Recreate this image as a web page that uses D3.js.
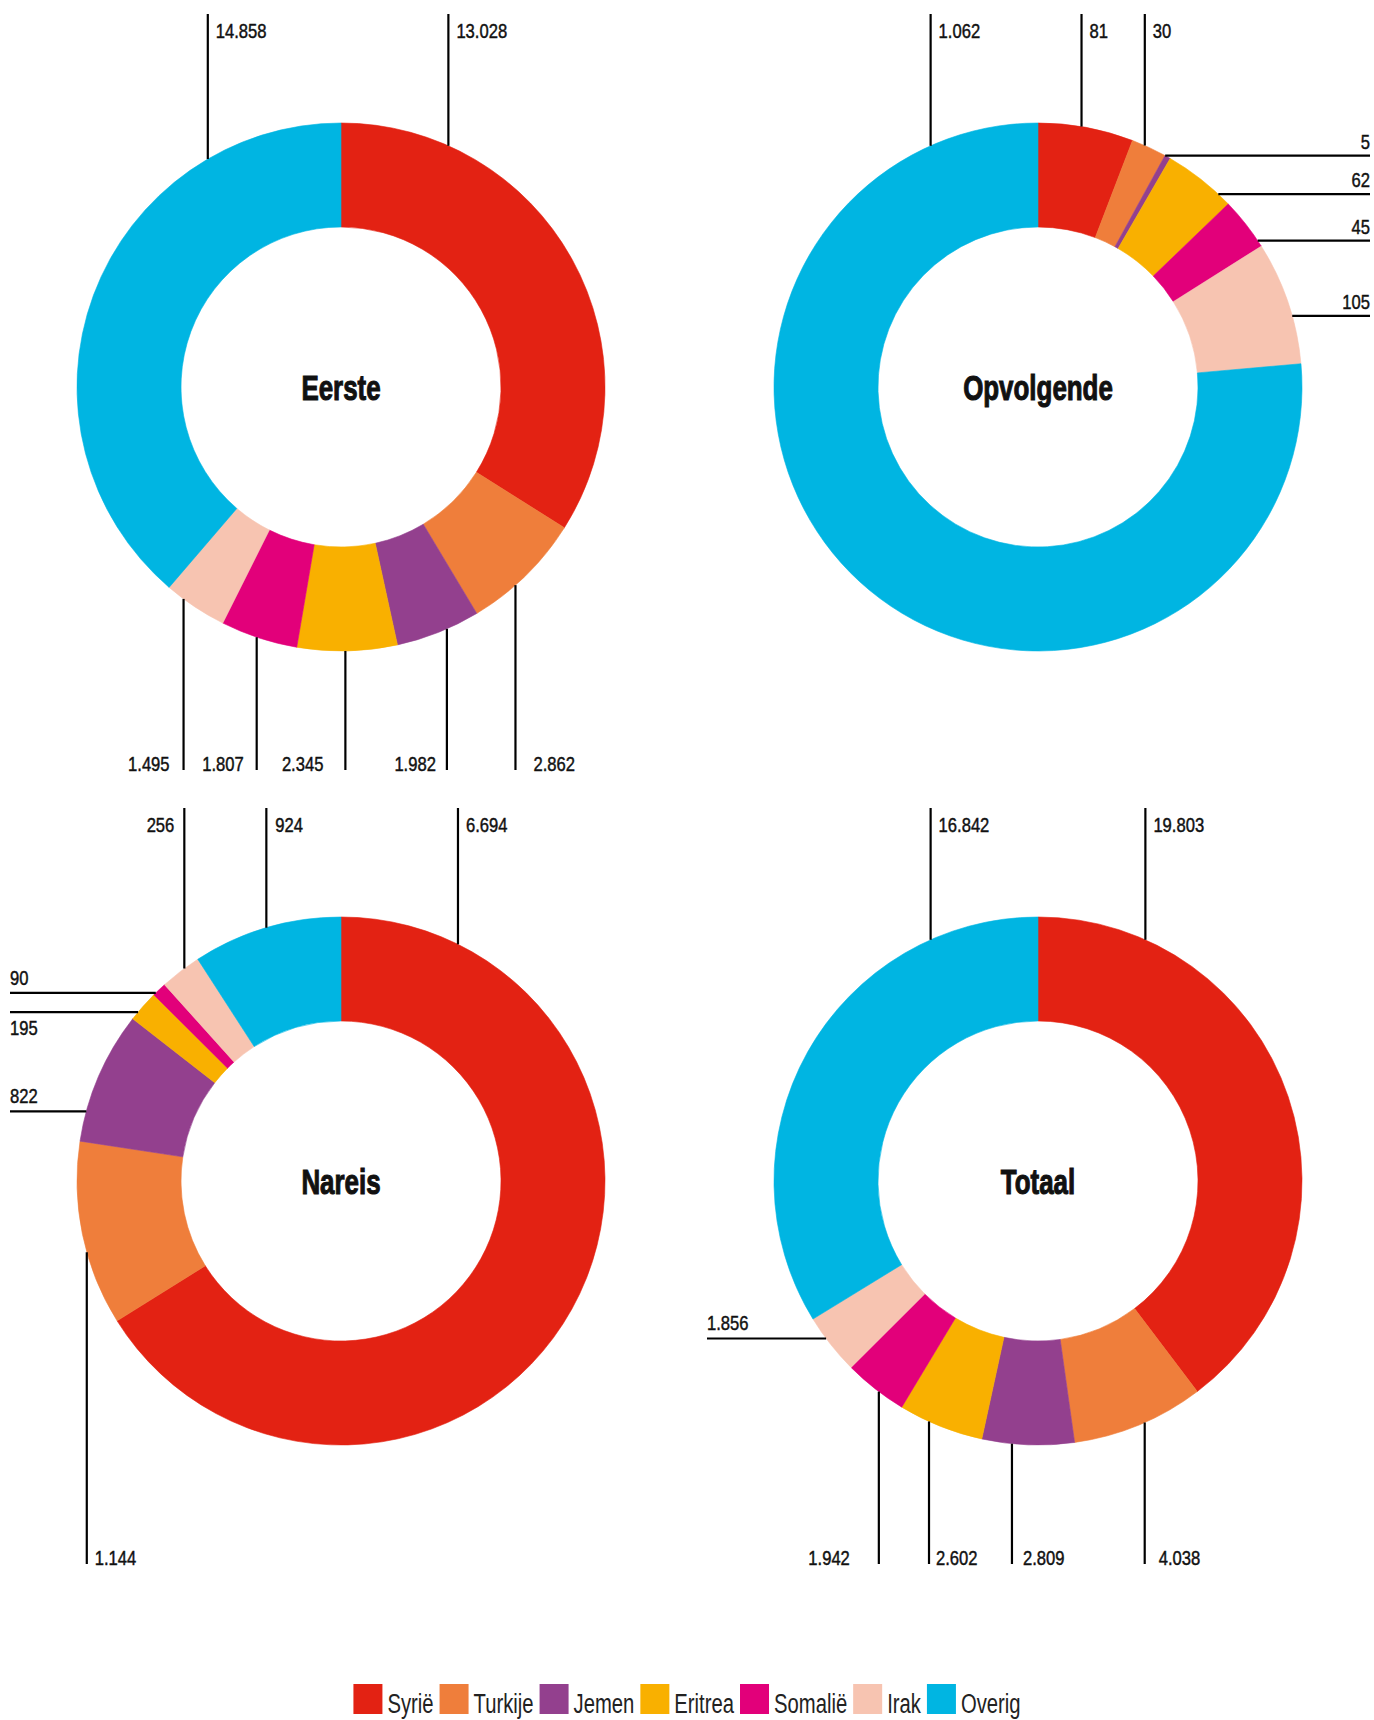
<!DOCTYPE html>
<html>
<head>
<meta charset="utf-8">
<script src="https://cdn.jsdelivr.net/npm/d3@7"></script>
<style>
  html, body { margin: 0; padding: 0; background: #fff; }
  svg { display: block; }
</style>
</head>
<body>
<svg id="chart" width="1374" height="1720"></svg>
<script>
// ---------- DATA ----------
const categories = ["Syrië", "Turkije", "Jemen", "Eritrea", "Somalië", "Irak", "Overig"];
const categoryColors = ["#e32213", "#ef7e3b", "#93408e", "#f9b000", "#e2007a", "#f7c4b1", "#00b5e2"];
const chartTitles = ["Eerste", "Opvolgende", "Nareis", "Totaal"];
const eersteValues     = [13028, 2862, 1982, 2345, 1807, 1495, 14858];
const opvolgendeValues = [81, 30, 5, 62, 45, 105, 1062];
const nareisValues     = [6694, 1144, 822, 195, 90, 256, 924];
const totaalValues     = [19803, 4038, 2809, 2602, 1942, 1856, 16842];
const seriesValues = [eersteValues, opvolgendeValues, nareisValues, totaalValues];

// ---------- LAYOUT (label leader placement per chart, per category) ----------
// leader direction: top / bottom / left / right ; text side: R / L (vertical leaders), A(bove) / B(elow) (horizontal)
const labelPlacement = [
  ["top-R", "bottom-R", "bottom-L", "bottom-L", "bottom-L", "bottom-L", "top-R"],
  ["top-R", "top-R", "right-A", "right-A", "right-A", "right-A", "top-R"],
  ["top-R", "bottom-R", "left-A", "left-B", "left-A", "top-L", "top-R"],
  ["top-R", "bottom-R", "bottom-R", "bottom-R", "bottom-L", "left-A", "top-R"]
];
// small angular nudges (degrees) of the leader anchor
const anchorNudge = [
  [0, 3, -2, 0.4, 0.5, 3, -6.3],
  [-1, -1, -0.6, 5, 4.4, 3, 0],
  [2.3, -4, -8, -1.6, -1, 1, 0],
  [0, -1.3, 3.5, 2.7, -1, 1.6, 0]
];
// gap between a vertical leader and its label (px)
const textGap = [
  [8, 18, 11, 22, 13, 14, 8],
  [8, 8, 0, 0, 0, 0, 8],
  [8, 8, 0, 0, 0, 10, 9],
  [8, 14, 11, 7, 29, 0, 8]
];
const centers = [[341, 387], [1038, 387], [341, 1181], [1038, 1181]];
const outerR = 264, innerR = 160;

const numFmt = d3.formatLocale({decimal: ",", thousands: ".", grouping: [3], currency: ["€", ""]}).format(",d");
const baseFont = "'Liberation Sans', Arial, sans-serif";
const labelScale = 0.83, titleScale = 0.72, legendScale = 0.75;

const svg = d3.select("#chart");
const color = d3.scaleOrdinal().domain(categories).range(categoryColors);
const pie = d3.pie().sort(null).value(d => d.value);
const arc = d3.arc().innerRadius(innerR).outerRadius(outerR);

const deg = Math.PI / 180;

function condText(parent, x, y, sx, txt) {
  return parent.append("text")
    .attr("transform", `translate(${x},${y}) scale(${sx},1)`)
    .attr("font-family", baseFont)
    .text(txt);
}

seriesValues.forEach((vals, ci) => {
  const [cx, cy] = centers[ci];
  const g = svg.append("g").attr("transform", `translate(${cx},${cy})`);
  const data = categories.map((c, i) => ({cat: c, value: vals[i], idx: i}));
  const arcs = pie(data);

  g.selectAll("path.slice").data(arcs).join("path")
    .attr("class", "slice")
    .attr("d", arc)
    .attr("fill", d => color(d.data.cat))
    .attr("stroke", d => color(d.data.cat))
    .attr("stroke-width", 0.6);

  condText(g, 0, 13, titleScale, chartTitles[ci])
    .attr("text-anchor", "middle")
    .attr("font-weight", "bold")
    .attr("font-size", 36)
    .attr("fill", "#111")
    .attr("stroke", "#111")
    .attr("stroke-width", 1.1);

  const n = arcs.length;
  arcs.forEach((a, i) => {
    const [dir, side] = labelPlacement[ci][i].split("-");
    let ang = (a.startAngle + a.endAngle) / 2;
    if (i === 0) ang = Math.min(ang, 24 * deg);
    if (i === n - 1) ang = Math.max(ang, 336 * deg);
    ang += anchorNudge[ci][i] * deg;
    const px = outerR * Math.sin(ang);
    const py = -outerR * Math.cos(ang);
    const gap = textGap[ci][i];
    let x2 = px, y2 = py, tx, ty, anchor;
    if (dir === "top") {
      y2 = -373;
      ty = -349;
      tx = side === "R" ? px + gap : px - gap;
      anchor = side === "R" ? "start" : "end";
    } else if (dir === "bottom") {
      y2 = 383;
      ty = 384;
      tx = side === "R" ? px + gap : px - gap;
      anchor = side === "R" ? "start" : "end";
    } else if (dir === "left") {
      x2 = -331;
      tx = x2;
      ty = side === "A" ? py - 8 : py + 23;
      anchor = "start";
    } else {
      x2 = 332;
      tx = x2;
      ty = py - 7;
      anchor = "end";
    }
    g.append("line")
      .attr("x1", px).attr("y1", py).attr("x2", x2).attr("y2", y2)
      .attr("stroke", "#000").attr("stroke-width", 2.2);
    condText(g, tx, ty, labelScale, numFmt(a.data.value))
      .attr("text-anchor", anchor)
      .attr("font-size", 20)
      .attr("fill", "#111")
      .attr("stroke", "#111")
      .attr("stroke-width", 0.45);
  });
});

// ---------- LEGEND ----------
const legend = svg.append("g");
const items = legend.selectAll("g.item").data(categories).join("g").attr("class", "item");
items.append("rect")
  .attr("width", 29).attr("height", 30).attr("y", 1684)
  .attr("fill", d => color(d));
items.append("text")
  .attr("font-family", baseFont)
  .attr("font-size", 27)
  .attr("fill", "#222")
  .text(d => d);
let xpos = 0;
const positions = [];
items.each(function () {
  const w = d3.select(this).select("text").node().getComputedTextLength() * legendScale;
  positions.push(xpos);
  xpos += 29 + 5 + w + 6;
});
const total = xpos - 6;
const startX = 687 - total / 2;
items.each(function (d, i) {
  const x = startX + positions[i];
  d3.select(this).select("rect").attr("x", x);
  d3.select(this).select("text").attr("transform", `translate(${x + 34},1713) scale(${legendScale},1)`);
});
</script>
</body>
</html>
